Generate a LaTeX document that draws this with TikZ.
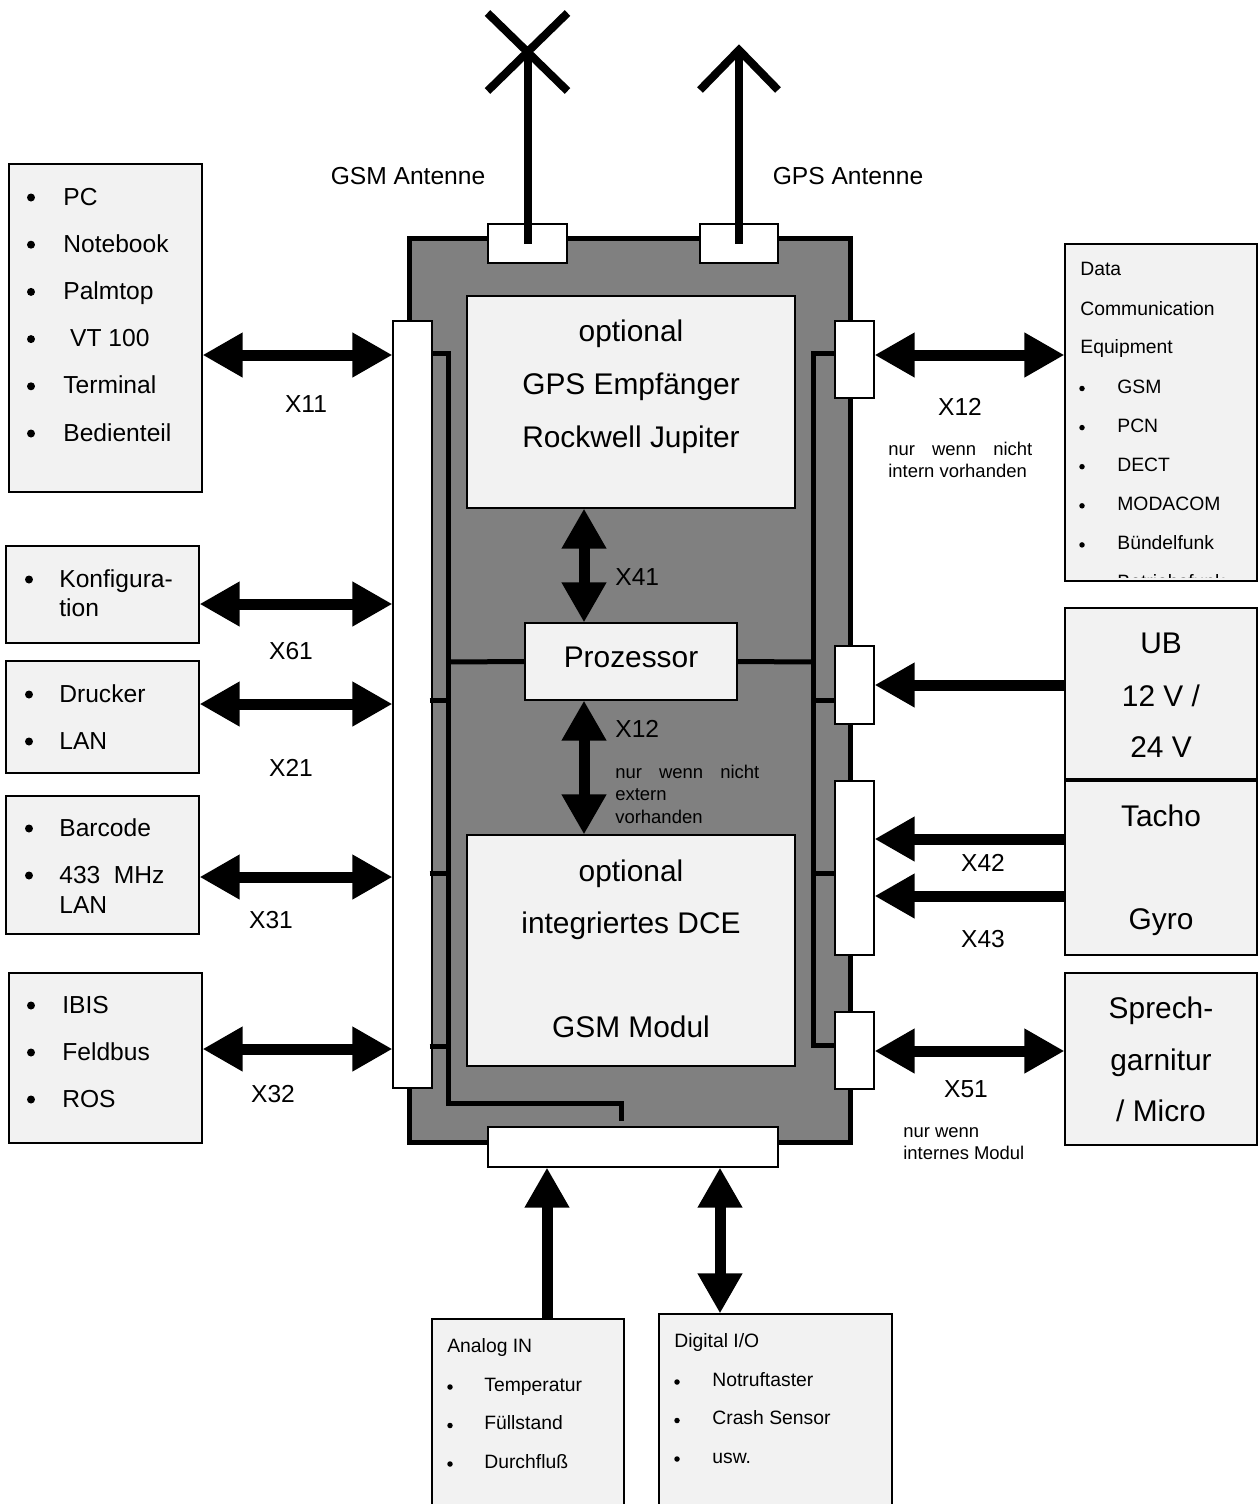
\documentclass[tikz,border=0pt]{standalone}
\usepackage{fontspec}
\setmainfont{Liberation Sans}
\usetikzlibrary{arrows.meta,fit,calc}
\definecolor{boxfill}{HTML}{F2F2F2}
\definecolor{housing}{HTML}{808080}

\begin{document}
\begin{tikzpicture}[
  x=0.02cm, y=-0.02cm,
  ext/.style={draw, line width=0.6pt, fill=boxfill, inner sep=0pt},
  plug/.style={draw, line width=0.6pt, fill=white, inner sep=0pt},
  txt/.style={inner sep=0pt, anchor=base west, font=\fontsize{14}{16}\selectfont},
  ctr/.style={inner sep=0pt, anchor=base, font=\fontsize{14}{16}\selectfont},
  big/.style={inner sep=0pt, anchor=base, font=\fontsize{17}{20}\selectfont},
  sml/.style={inner sep=0pt, anchor=base west, font=\fontsize{11}{13}\selectfont},
  note/.style={inner sep=0pt, anchor=base west, font=\fontsize{10.5}{12}\selectfont},
  dot/.style={circle, fill, inner sep=0pt, minimum size=0.16cm},
  sdot/.style={circle, fill, inner sep=0pt, minimum size=0.11cm},
  bus/.style={line width=0.1cm},
  link/.style={line width=0.22cm},
  ant/.style={line width=0.16cm},
  >={Triangle[length=0.8cm,width=0.84cm]}
]
  \useasboundingbox (0,0) rectangle (1258,1504);

  % housing with antenna plugs
  \node[draw, line width=0.1cm, fill=housing, inner sep=0pt,
        fit={(409,238) (850,1142)}] (housing) {};
  \node[plug, fit={(488,224) (567,263)}] (gsmplug) {};
  \node[plug, fit={(700,224) (778,263)}] (gpsplug) {};

  % antennas
  \coordinate (gsmtip) at (527.5,52);
  \coordinate (gpstip) at (739,52);
  \draw[ant] (gsmplug.center) -- (gsmtip);
  \draw[ant] ($(gsmtip)+(-40,-39)$) -- ($(gsmtip)+(40,39)$)
             ($(gsmtip)+(40,-39)$) -- ($(gsmtip)+(-40,39)$);
  \draw[ant] (gpsplug.center) -- (gpstip);
  \draw[ant, line join=miter] ($(gpstip)+(-39,38)$) -- (739,50) -- ($(gpstip)+(39,38)$);
  \node[ctr] (gsmlbl) at (408,184) {GSM Antenne};
  \node[ctr] (gpslbl) at (848,184) {GPS Antenne};

  % inner modules
  \node[ext, fit={(467,296) (795,508)}] (gps) {};
  \node[ext, fit={(525,623) (737,700)}] (cpu) {};
  \node[ext, fit={(467,835) (795,1066)}] (dce) {};
  \node[big] (gps1) at (631,341) {optional};
  \node[big] (gps2) at (631,394) {GPS Empfänger};
  \node[big] (gps3) at (631,447) {Rockwell Jupiter};
  \node[big] (cpu1) at (631,667) {Prozessor};
  \node[big] (dce1) at (631,881) {optional};
  \node[big] (dce2) at (631,933) {integriertes DCE};
  \node[big] (dce3) at (631,1037) {GSM Modul};

  % plugs on the housing
  \node[plug, fit={(393,321) (432,1088)}] (lbus) {};
  \node[plug, fit={(835,321) (874,398)}] (p12) {};
  \node[plug, fit={(835,646) (874,724)}] (pub) {};
  \node[plug, fit={(835,781) (874,955)}] (ptacho) {};
  \node[plug, fit={(835,1012) (874,1089)}] (p51) {};
  \node[plug, fit={(488,1127) (778,1167)}] (pio) {};

  % internal bus
  \draw[bus] (lbus.east |- 0,353) -| (448,1103) -| ($(pio.north -| 621,0)+(0,-5)$);
  \foreach \y in {700,873,1046}
    \draw[bus] ($(lbus.east |- 0,\y)+(-3,0)$) -- (448,\y);
  \draw[bus] (448,662) -- (cpu.west);
  \draw[bus] (cpu.east) -- (813,662);
  \draw[bus] (p12.west |- 0,353) -| (813,1045) -- (p51.west |- 0,1045);
  \draw[bus] (813,700) -- (pub.west |- 0,700);
  \draw[bus] (813,873) -- (ptacho.west |- 0,873);

  % internal links
  \draw[link, <->] (gps.south -| 584,0) -- (cpu.north -| 584,0);
  \draw[link, <->] (cpu.south -| 584,0) -- (dce.north -| 584,0);
  \node[txt] (x41) at (615,585) {X41};
  \node[txt] (x12i) at (615,737) {X12};
  \node[note] (n1) at (615,778) {\makebox[2.88cm][s]{nur wenn nicht}};
  \node[note] (n2) at (615,800) {extern};
  \node[note] (n3) at (615,823) {vorhanden};

  % left side
  \node[ext, fit={(9,164) (202,492)}] (pc) {};
  \node[ext, fit={(6,546) (199,643)}] (konf) {};
  \node[ext, fit={(6,661) (199,773)}] (druck) {};
  \node[ext, fit={(6,796) (199,934)}] (barc) {};
  \node[ext, fit={(9,973) (202,1143)}] (ibis) {};

  \foreach \t [count=\i from 0] in {PC,Notebook,Palmtop,\ VT 100,Terminal,Bedienteil} {
    \node[dot] at (31,197.5+47.2*\i) {};
    \node[txt] at (63,205+47.2*\i) {\t};
  }
  \node[dot] (kb) at (29,579.5) {};
  \node[txt] (k1) at (59,587) {Konfigura-};
  \node[txt] (k2) at (59,616) {tion};
  \node[dot] (db1) at (29,694.5) {};
  \node[txt] (d1) at (59,702) {Drucker};
  \node[dot] (db2) at (29,741.5) {};
  \node[txt] (d2) at (59,749) {LAN};
  \node[dot] (bb1) at (29,828.5) {};
  \node[txt] (b1) at (59,836) {Barcode};
  \node[dot] (bb2) at (29,875.5) {};
  \node[txt] (b2) at (59,883) {433\hspace{0.27cm}MHz};
  \node[txt] (b3) at (59,913) {LAN};
  \foreach \t [count=\i from 0] in {IBIS,Feldbus,ROS} {
    \node[dot] at (31,1005.5+47*\i) {};
    \node[txt] at (62,1013+47*\i) {\t};
  }

  \draw[link, <->] (pc.east |- 0,355) -- (lbus.west |- 0,355);
  \draw[link, <->] (konf.east |- 0,604) -- (lbus.west |- 0,604);
  \draw[link, <->] (druck.east |- 0,704) -- (lbus.west |- 0,704);
  \draw[link, <->] (barc.east |- 0,877) -- (lbus.west |- 0,877);
  \draw[link, <->] (ibis.east |- 0,1049) -- (lbus.west |- 0,1049);
  \node[ctr] (x11) at (306,412) {X11};
  \node[ctr] (x61) at (291,659) {X61};
  \node[ctr] (x21) at (291,776) {X21};
  \node[ctr] (x31) at (271,928) {X31};
  \node[ctr] (x32) at (273,1102) {X32};

  % right side
  \node[ext, fit={(1065,244) (1257,581)}] (datacom) {};
  \node[ext, fit={(1065,608) (1257,779)}] (ub) {};
  \node[ext, fit={(1065,781) (1257,955)}] (tacho) {};
  \node[ext, fit={(1065,973) (1257,1145)}] (sprech) {};

  \begin{scope}
    \clip (datacom.north west) rectangle (1257,577.5);
    \node[sml] (dc1) at (1080,275) {Data};
    \node[sml] (dc2) at (1080,315) {Communication};
    \node[sml] (dc3) at (1080,353) {Equipment};
    \foreach \t [count=\i from 0] in {GSM,PCN,DECT,MODACOM,Bündelfunk,Betriebsfunk} {
      \node[sdot] at (1082,388.5+39.1*\i) {};
      \node[sml] at (1117,393+39.1*\i) {\t};
    }
  \end{scope}

  \node[big] (ub1) at (1161,653) {UB};
  \node[big] (ub2) at (1161,706) {12 V /};
  \node[big] (ub3) at (1161,757) {24 V};
  \node[big] (ta1) at (1161,826) {Tacho};
  \node[big] (ta2) at (1161,929) {Gyro};
  \node[big] (sp1) at (1161,1018) {Sprech-};
  \node[big] (sp2) at (1161,1070) {garnitur};
  \node[big] (sp3) at (1161,1121) {/ Micro};

  \draw[link, <->] (p12.east |- 0,355) -- (datacom.west |- 0,355);
  \draw[link, ->] (ub.west |- 0,685) -- (pub.east |- 0,685);
  \draw[link, ->] (tacho.west |- 0,839) -- (ptacho.east |- 0,839);
  \draw[link, ->] (tacho.west |- 0,896) -- (ptacho.east |- 0,896);
  \draw[link, <->] (p51.east |- 0,1051) -- (sprech.west |- 0,1051);
  \node[ctr] (x12) at (960,415) {X12};
  \node[note] (r1) at (888,455) {\makebox[2.88cm][s]{nur wenn nicht}};
  \node[note] (r2) at (888,477) {intern vorhanden};
  \node[ctr] (x42) at (983,871) {X42};
  \node[ctr] (x43) at (983,947) {X43};
  \node[ctr] (x51) at (966,1097) {X51};
  \node[note] (r3) at (903,1137) {nur wenn};
  \node[note] (r4) at (903,1159) {internes Modul};

  % bottom side
  \node[ext, fit={(432,1319) (624,1512)}] (analog) {};
  \node[ext, fit={(659,1314) (892,1512)}] (digital) {};
  \node[sml] (an0) at (447,1352) {Analog IN};
  \foreach \t [count=\i from 0] in {Temperatur,Füllstand,Durchfluß} {
    \node[sdot] at (450,1387+38.5*\i) {};
    \node[sml] at (484,1391+38.5*\i) {\t};
  }
  \node[sml] (di0) at (674,1347) {Digital I/O};
  \foreach \t [count=\i from 0] in {Notruftaster,Crash Sensor,usw.} {
    \node[sdot] at (677,1382+38.5*\i) {};
    \node[sml] at (712,1386+38.5*\i) {\t};
  }
  \draw[link, ->] (analog.north -| 547,0) -- (pio.south -| 547,0);
  \draw[link, <->] (pio.south -| 720,0) -- (digital.north -| 720,0);
\end{tikzpicture}
\end{document}
